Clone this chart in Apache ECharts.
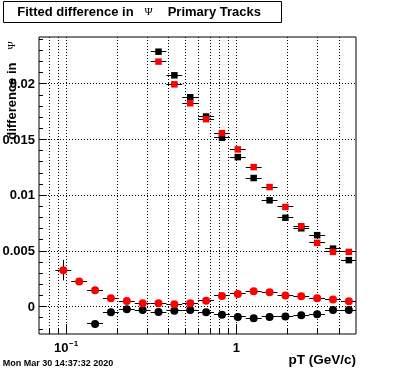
<!DOCTYPE html>
<html><head><meta charset="utf-8">
<script src="https://cdn.jsdelivr.net/npm/echarts@6/dist/echarts.min.js"></script>
<style>html,body{margin:0;padding:0;background:#fff}#c{width:396px;height:372px}</style>
</head><body><div id="c"></div>
<script>
// ---- data ----
const binEdges = [0.0866,0.1073,0.1330,0.1648,0.2042,0.2530,0.3134,0.3884,0.4812,0.5963,0.7388,0.9156,1.134,1.406,1.742,2.158,2.674,3.314,4.106,5.087];
const blackSquares = [null,null,null,null,null,null,0.02290,0.02078,0.01881,0.01708,0.01517,0.01344,0.01156,0.00956,0.00799,0.00705,0.00643,0.00522,0.00419];
const redSquares   = [null,null,null,null,null,null,0.02201,0.01997,0.01827,0.01684,0.01559,0.01413,0.01254,0.01075,0.00896,0.00723,0.00574,0.00493,0.00493];
const blackCircles = [null,null,-0.00154,-0.00048,-0.00022,-0.00029,-0.00047,-0.00035,-0.00029,-0.00049,-0.00071,-0.00091,-0.00103,-0.00091,-0.00087,-0.00076,-0.00067,-0.00029,-0.00029];
const redCircles   = [0.00329,0.00228,0.00148,0.00076,0.00052,0.00031,0.00031,0.00022,0.00031,0.00055,0.00097,0.00115,0.00139,0.00130,0.00101,0.00094,0.00076,0.00065,0.00049];
const redCircleErrors = [0.00092,0,0,0,0,0,0,0,0,0,0,0,0,0,0,0,0,0,0];
const xGridTicks = [0.08,0.09,0.1,0.2,0.3,0.4,0.5,0.6,0.7,0.8,0.9,1,2,3,4];
const xMajorTicks = [0.1, 1];
const xTickLabels = [['10','\u22121'], ['1','']];
const yMajorTicks = [0, 0.005, 0.01, 0.015, 0.02];
const yTickLabels = ['0', '0.005', '0.01', '0.015', '0.02'];
const yMinorTicks = [-0.002,-0.001,0.001,0.002,0.003,0.004,0.006,0.007,0.008,0.009,0.011,0.012,0.013,0.014,0.016,0.017,0.018,0.019,0.021,0.022,0.023,0.024];
const xRange = [0.0694, 5.033];
const yRange = [-0.002442, 0.024219];
const titleParts = ['Fitted difference in', '\u03A8', 'Primary Tracks'];
const yTitleParts = ['difference in', '\u03A8'];
const xTitle = 'pT (GeV/c)';
const dateText = 'Mon Mar 30 14:37:32 2020';

const FONT = '"Liberation Sans", Arial, Helvetica, sans-serif';
const SYM = '"Liberation Serif", "DejaVu Serif", serif';

function snap(v){ return Math.round(v - 0.5) + 0.5; }

function pointSeries(name, values, errs, color, shape, size){
  const data = [];
  values.forEach((v, i) => {
    if (v === null) return;
    data.push([Math.sqrt(binEdges[i]*binEdges[i+1]), v, binEdges[i], binEdges[i+1], errs ? errs[i] : 0]);
  });
  return {
    type: 'custom', name, data, encode: {x: 0, y: 1}, silent: true,
    renderItem: (params, api) => {
      const cs = params.coordSys;
      const c = api.coord([api.value(0), api.value(1)]);
      const lo = api.coord([api.value(2), api.value(1)]);
      const hi = api.coord([api.value(3), api.value(1)]);
      const e = api.value(4);
      const y = snap(c[1]);
      const x1 = Math.max(lo[0], cs.x), x2 = Math.min(hi[0], cs.x + cs.width);
      const children = [
        {type: 'line', shape: {x1: x1, y1: y, x2: x2, y2: y}, style: {stroke: '#000', lineWidth: 1}}
      ];
      if (e > 0) {
        const t = api.coord([api.value(0), api.value(1) + e]);
        const b = api.coord([api.value(0), api.value(1) - e]);
        const xx = snap(c[0]);
        children.push({type: 'line', shape: {x1: xx, y1: t[1], x2: xx, y2: b[1]}, style: {stroke: '#000', lineWidth: 1}});
      }
      if (shape === 'circle') {
        children.push({type: 'circle', shape: {cx: c[0], cy: c[1], r: size/2}, style: {fill: color}});
      } else {
        children.push({type: 'rect', shape: {x: c[0]-size/2, y: c[1]-size/2, width: size, height: size}, style: {fill: color}});
      }
      return {type: 'group', children};
    }
  };
}

const txt = (x, y, text, font, align, valign, fill) => ({
  type: 'text', x: x, y: y,
  style: {text: text, font: font, fill: fill || '#000', align: align, verticalAlign: valign, textAlign: align, textVerticalAlign: valign}
});

const xGridSeries = {
  type: 'custom', silent: true, data: xGridTicks.map(v => [v, 0]), encode: {x: 0, y: 1},
  renderItem: (params, api) => {
    const cs = params.coordSys;
    const v = api.value(0);
    const p = api.coord([v, 0]);
    const x = snap(p[0]);
    const major = xMajorTicks.indexOf(v) >= 0;
    const bot = cs.y + cs.height;
    return {type: 'group', children: [
      {type: 'line', shape: {x1: x, y1: cs.y, x2: x, y2: bot}, style: {stroke: '#000', lineWidth: 1, lineDash: [1, 2]}},
      {type: 'line', shape: {x1: x, y1: bot, x2: x, y2: bot - (major ? 10 : 6)}, style: {stroke: '#000', lineWidth: 1}}
    ]};
  }
};

const xLabelSeries = {
  type: 'custom', silent: true, data: xMajorTicks.map(v => [v, 0]), encode: {x: 0, y: 1},
  renderItem: (params, api) => {
    const cs = params.coordSys;
    const p = api.coord([api.value(0), 0]);
    const parts = xTickLabels[params.dataIndex];
    const y = cs.y + cs.height + 14;
    if (!parts[1]) {
      return txt(p[0], y, parts[0], 'bold 13px ' + FONT, 'center', 'middle');
    }
    return {type: 'group', children: [
      txt(p[0] + 2.5, y, parts[0], 'bold 13px ' + FONT, 'right', 'middle'),
      txt(p[0] + 3, y - 4.5, parts[1], 'bold 8px ' + FONT, 'left', 'middle')
    ]};
  }
};

const yGridSeries = {
  type: 'custom', silent: true, data: yMajorTicks.map(v => [1, v]), encode: {x: 0, y: 1},
  renderItem: (params, api) => {
    const cs = params.coordSys;
    const p = api.coord([1, api.value(1)]);
    const y = snap(p[1]);
    return {type: 'group', children: [
      {type: 'line', shape: {x1: cs.x, y1: y, x2: cs.x + cs.width, y2: y}, style: {stroke: '#000', lineWidth: 1, lineDash: [1, 2]}},
      {type: 'line', shape: {x1: cs.x, y1: y, x2: cs.x + 8, y2: y}, style: {stroke: '#000', lineWidth: 1}},
      txt(cs.x - 4, p[1] + 0.5, yTickLabels[params.dataIndex], 'bold 13px ' + FONT, 'right', 'middle')
    ]};
  }
};

const yMinorSeries = {
  type: 'custom', silent: true, data: yMinorTicks.map(v => [1, v]), encode: {x: 0, y: 1},
  renderItem: (params, api) => {
    const cs = params.coordSys;
    const p = api.coord([1, api.value(1)]);
    const y = snap(p[1]);
    return {type: 'line', shape: {x1: cs.x, y1: y, x2: cs.x + 4, y2: y}, style: {stroke: '#000', lineWidth: 1}};
  }
};

const chart = echarts.init(document.getElementById('c'), null, {renderer: 'canvas'});
chart.setOption({
  animation: false,
  backgroundColor: '#fff',
  grid: {left: 39, top: 37, width: 317, height: 297, show: true, borderColor: '#000', borderWidth: 1, backgroundColor: '#fff'},
  xAxis: {type: 'log', logBase: 10, min: xRange[0], max: xRange[1],
    axisLine: {show: false}, axisTick: {show: false}, axisLabel: {show: false}, splitLine: {show: false}},
  yAxis: {type: 'value', min: yRange[0], max: yRange[1],
    axisLine: {show: false}, axisTick: {show: false}, axisLabel: {show: false}, splitLine: {show: false}},
  series: [
    xGridSeries, yGridSeries, yMinorSeries, xLabelSeries,
    pointSeries('blackSquares', blackSquares, null, '#000', 'rect', 6.5),
    pointSeries('redSquares', redSquares, null, '#ff0000', 'rect', 6.5),
    pointSeries('blackCircles', blackCircles, null, '#000', 'circle', 8),
    pointSeries('redCircles', redCircles, redCircleErrors, '#ff0000', 'circle', 8)
  ],
  graphic: [
    {type: 'rect', shape: {x: 3.5, y: 1.5, width: 278, height: 21}, style: {fill: '#fff', stroke: '#000', lineWidth: 1}},
    txt(17.3, 12, titleParts[0], 'bold 13px ' + FONT, 'left', 'middle'),
    txt(144.5, 12, titleParts[1], '11px ' + SYM, 'left', 'middle'),
    txt(167.7, 12, titleParts[2], 'bold 13px ' + FONT, 'left', 'middle'),
    {type: 'text', x: 12.5, y: 62.5, rotation: Math.PI/2,
      style: {text: yTitleParts[0], font: 'bold 13px ' + FONT, fill: '#000', align: 'right', verticalAlign: 'middle', textAlign: 'right', textVerticalAlign: 'middle'}},
    {type: 'text', x: 12.5, y: 45.5, rotation: Math.PI/2,
      style: {text: yTitleParts[1], font: '11px ' + SYM, fill: '#000', align: 'center', verticalAlign: 'middle', textAlign: 'center', textVerticalAlign: 'middle'}},
    txt(356, 360.5, xTitle, 'bold 13.5px ' + FONT, 'right', 'middle'),
    txt(2.7, 363.5, dateText, 'bold 9px ' + FONT, 'left', 'middle')
  ]
});
</script></body></html>
